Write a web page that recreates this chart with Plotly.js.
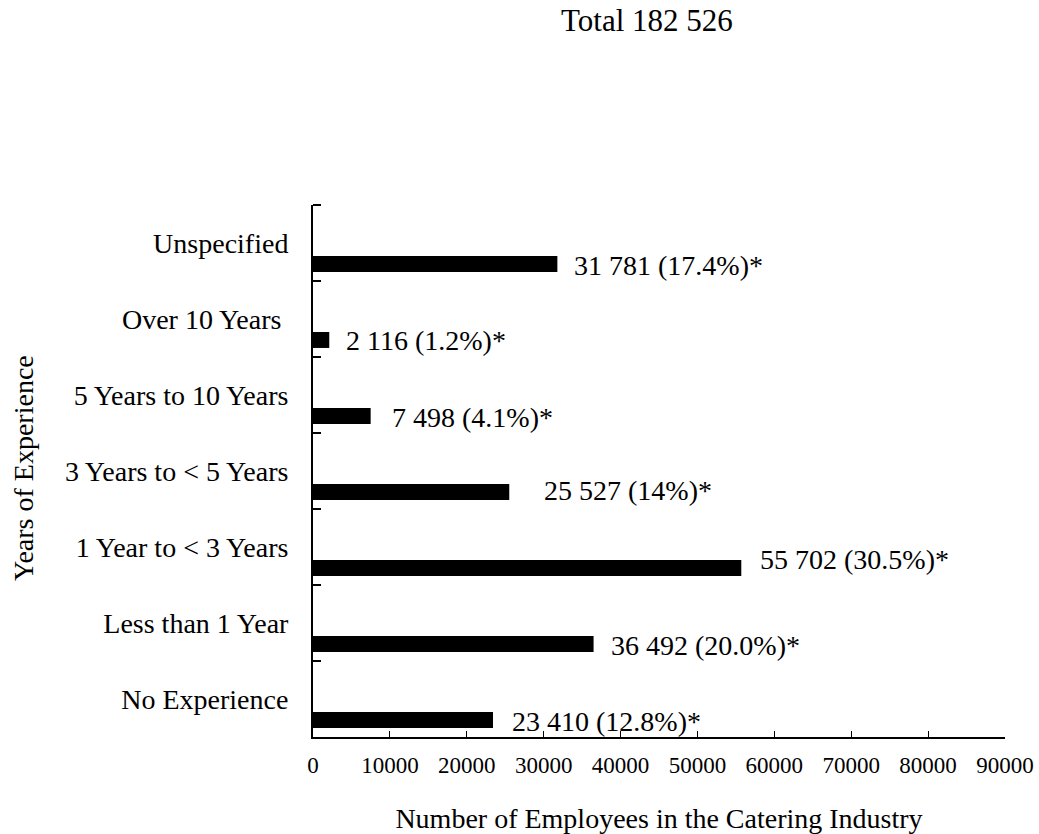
<!DOCTYPE html>
<html>
<head>
<meta charset="utf-8">
<script src="https://cdn.plot.ly/plotly-3.0.1.min.js"></script>
<style>html,body{margin:0;padding:0;background:#fff;}#chart{width:1039px;height:834px;}</style>
</head>
<body>
<div id="chart"></div>
<script>
// Data (bottom to top)
var categories = ["No Experience", "Less than 1 Year", "1 Year to < 3 Years", "3 Years to < 5 Years", "5 Years to 10 Years", "Over 10 Years&nbsp;", "Unspecified"];
var employees = [23410, 36492, 55702, 25527, 7498, 2116, 31781];
var percentLabels = ["12.8%", "20.0%", "30.5%", "14%", "4.1%", "1.2%", "17.4%"];
var totalEmployees = "182 526";
var xTickValues = [0, 10000, 20000, 30000, 40000, 50000, 60000, 70000, 80000, 90000];

// Label placement styles (pixels)
var labelShiftX = [17, 15, 17, 33, 19, 15, 15];
var labelShiftY = [-22, -22, -12, -19, -22, -21, -22];

function fmtSpace(n) {
  return String(n).replace(/\B(?=(\d{3})+(?!\d))/g, " ");
}

var FONT = "Liberation Serif, Times New Roman, serif";

var trace = {
  type: "bar",
  orientation: "h",
  x: employees,
  y: categories,
  marker: {color: "#000000", line: {width: 0}},
  width: 0.21,
  offset: -0.381,
  hoverinfo: "none"
};

var annotations = employees.map(function (v, i) {
  return {
    x: v, y: categories[i], xref: "x", yref: "y",
    text: fmtSpace(v) + " (" + percentLabels[i] + ")*",
    showarrow: false, xanchor: "left", yanchor: "middle",
    xshift: labelShiftX[i], yshift: labelShiftY[i],
    font: {family: FONT, size: 28, color: "#000"}
  };
});

annotations.push({
  text: "Years of Experience", textangle: -90,
  xref: "paper", yref: "paper", x: -0.4191, y: 0.5056,
  xanchor: "center", yanchor: "middle", showarrow: false,
  font: {family: FONT, size: 28, color: "#000"}
});

var layout = {
  width: 1039, height: 834,
  margin: {l: 313, r: 34, t: 205, b: 97, pad: 0},
  paper_bgcolor: "#fff", plot_bgcolor: "#fff",
  showlegend: false,
  title: {
    text: "Total " + totalEmployees,
    x: 0.6227, xref: "container", xanchor: "center",
    y: 0.976, yref: "container", yanchor: "middle",
    font: {family: FONT, size: 31, color: "#000"}
  },
  xaxis: {
    range: [0, 90000], tickvals: xTickValues, tickformat: "d",
    showgrid: false, zeroline: false,
    showline: true, linecolor: "#000", linewidth: 1.5,
    ticks: "inside", ticklen: 6, tickwidth: 1, tickcolor: "#000",
    ticklabelstandoff: 7,
    tickfont: {family: FONT, size: 23, color: "#000"},
    title: {text: "Number of Employees in the Catering Industry", standoff: 37,
            font: {family: FONT, size: 28, color: "#000"}},
    automargin: false, fixedrange: true
  },
  yaxis: {
    type: "category", categoryorder: "array", categoryarray: categories,
    range: [-0.5, 6.5],
    showgrid: false, zeroline: false,
    showline: true, linecolor: "#000", linewidth: 2,
    ticks: "inside", tickson: "boundaries", ticklen: 8, tickwidth: 2, tickcolor: "#000",
    ticklabelstandoff: 17,
    tickfont: {family: FONT, size: 28, color: "#000"},
    automargin: false, fixedrange: true
  },
  shapes: [{
    type: "line", xref: "paper", yref: "paper",
    x0: 0, x1: 8 / 692, y0: 1, y1: 1,
    line: {color: "#000", width: 2}
  }],
  annotations: annotations
};

Plotly.newPlot("chart", [trace], layout, {displayModeBar: false, staticPlot: true});
</script>
</body>
</html>
